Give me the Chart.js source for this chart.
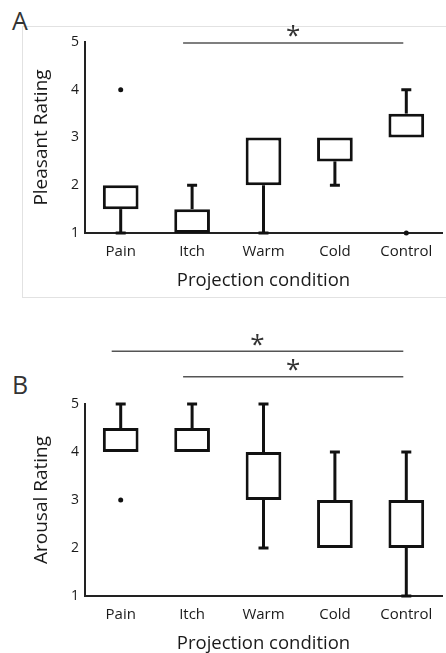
<!DOCTYPE html>
<html>
<head>
<meta charset="utf-8">
<script src="https://cdn.jsdelivr.net/npm/chart.js@4.4.1/dist/chart.umd.min.js"></script>
<style>
    body { margin: 0; background: #fff; width: 446px; height: 653px; overflow: hidden; position: relative; font-family: "Open Sans", sans-serif; }
    .frame { position: absolute; left: 22px; top: 26px; width: 440px; height: 270px; border: 1px solid #e2e2e2; }
    .letter { position: absolute; font-size: 25px; color: #333; line-height: 1; }
    .wrap { position: absolute; left: 0; width: 446px; }
</style>
</head>
<body>
<div class="frame"></div>
<div class="letter" style="left: 12px; top: 8px;">A</div>
<div class="letter" style="left: 12px; top: 372px;">B</div>
<div class="wrap" style="top: 0; height: 290px;"><canvas id="chartA"></canvas></div>
<div class="wrap" style="top: 300px; height: 353px;"><canvas id="chartB"></canvas></div>

<script>
const categories = ["Pain", "Itch", "Warm", "Cold", "Control"];
const yTicks = [1, 2, 3, 4, 5];

// Pleasant rating boxes
const pleasantQ1 = [1.5, 1, 2, 2.5, 3];
const pleasantQ3 = [2, 1.5, 3, 3, 3.5];
const pleasantLow = [1, null, 1, 2, null];
const pleasantHigh = [null, 2, null, null, 4];
const pleasantOutliers = [4, null, null, null, 1];
const pleasantSig = [["Itch", "Control", 4.98]];

// Arousal rating boxes
const arousalQ1 = [4, 4, 3, 2, 2];
const arousalQ3 = [4.5, 4.5, 4, 3, 3];
const arousalLow = [null, null, 2, null, 1];
const arousalHigh = [5, 5, 5, 4, 4];
const arousalOutliers = [3, null, null, null, null];
const arousalSig = [["Pain", "Control", 6.1], ["Itch", "Control", 5.57]];

const ink = "#111";
const textColor = "#1a1a1a";

const whiskerPlugin = {
    id: "whiskers",
    afterDatasetsDraw(chart, args, opts) {
        const ctx = chart.ctx;
        const x = chart.scales.x;
        const y = chart.scales.y;
        ctx.save();
        ctx.strokeStyle = ink;
        ctx.lineWidth = 3;
        ctx.lineCap = "butt";
        categories.forEach((c, i) => {
            const px = x.getPixelForValue(i);
            [[opts.q1[i], opts.low[i]], [opts.q3[i], opts.high[i]]].forEach(([edge, end]) => {
                if (end === null) return;
                ctx.beginPath();
                ctx.moveTo(px, y.getPixelForValue(edge));
                ctx.lineTo(px, y.getPixelForValue(end));
                ctx.stroke();
                ctx.beginPath();
                ctx.moveTo(px - 5, y.getPixelForValue(end));
                ctx.lineTo(px + 5, y.getPixelForValue(end));
                ctx.stroke();
            });
        });
        // significance bars
        ctx.strokeStyle = "#555";
        ctx.fillStyle = "#333";
        ctx.lineWidth = 1.5;
        ctx.font = "26px 'Open Sans'";
        ctx.textAlign = "center";
        ctx.textBaseline = "middle";
        opts.sig.forEach(([from, to, level]) => {
            const x1 = x.getPixelForValue(categories.indexOf(from)) - 9;
            const x2 = x.getPixelForValue(categories.indexOf(to)) - 3;
            const py = y.getPixelForValue(level);
            ctx.beginPath();
            ctx.moveTo(x1, py);
            ctx.lineTo(x2, py);
            ctx.stroke();
            ctx.fillText("*", (x1 + x2) / 2, py - 6);
        });
        ctx.restore();
    }
};

function makeChart(id, yTitle, q1, q3, low, high, outliers, sig, topPad) {
    const ctx = document.getElementById(id).getContext("2d");
    return new Chart(ctx, {
        type: "bar",
        data: {
            labels: categories,
            datasets: [
                {
                    data: categories.map((c, i) => [q1[i], q3[i]]),
                    backgroundColor: "#fff",
                    borderColor: ink,
                    borderWidth: 3,
                    borderSkipped: false,
                    barPercentage: 0.5,
                    categoryPercentage: 1,
                    clip: false,
                },
                {
                    type: "line",
                    data: outliers,
                    showLine: false,
                    pointRadius: 2.5,
                    pointBackgroundColor: ink,
                    pointBorderWidth: 0,
                    clip: false,
                },
            ],
        },
        options: {
            responsive: true,
            maintainAspectRatio: false,
            animation: false,
            layout: { padding: { top: topPad, left: 0, right: 0, bottom: 0 } },
            plugins: {
                legend: { display: false },
                tooltip: { enabled: false },
                whiskers: { q1, q3, low, high, sig },
            },
            scales: {
                x: {
                    grid: { display: false, drawTicks: false },
                    border: { color: "#222", width: 2 },
                    ticks: { color: textColor, font: { family: "Open Sans", size: 15 }, padding: 10 },
                    title: { display: true, text: "Projection condition", color: textColor, font: { family: "Open Sans", size: 18.5 }, padding: { top: 0, bottom: -2 } },
                    afterFit: (s) => { s.height = 57; },
                },
                y: {
                    min: yTicks[0],
                    max: yTicks[yTicks.length - 1],
                    afterBuildTicks: (s) => { s.ticks = yTicks.map((v) => ({ value: v })); },
                    grid: { display: false, drawTicks: false },
                    border: { color: "#222", width: 2 },
                    ticks: { color: textColor, font: { family: "Open Sans", size: 14 }, padding: 6 },
                    title: { display: true, text: yTitle, color: textColor, font: { family: "Open Sans", size: 19 }, padding: { top: 30, bottom: 0 } },
                    afterFit: (s) => { s.width = 85; },
                },
            },
        },
        plugins: [whiskerPlugin],
    });
}

makeChart("chartA", "Pleasant Rating", pleasantQ1, pleasantQ3, pleasantLow, pleasantHigh, pleasantOutliers, pleasantSig, 42);
makeChart("chartB", "Arousal Rating", arousalQ1, arousalQ3, arousalLow, arousalHigh, arousalOutliers, arousalSig, 104);
</script>
</body>
</html>
